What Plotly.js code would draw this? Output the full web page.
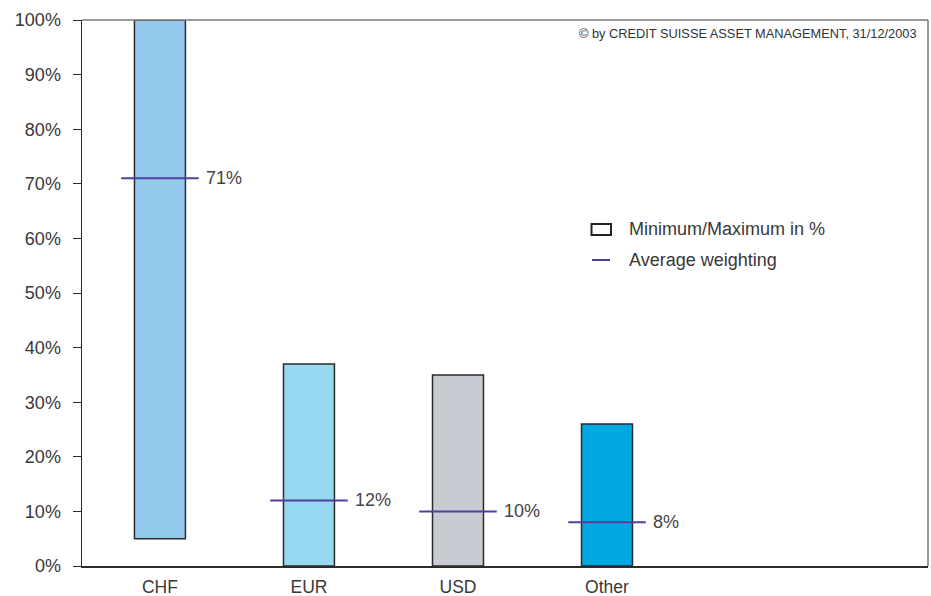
<!DOCTYPE html>
<html>
<head>
<meta charset="utf-8">
<script src="https://cdn.plot.ly/plotly-3.0.1.min.js"></script>
<style>
  html, body { margin: 0; padding: 0; background: #fff; }
  #chart { width: 931px; height: 596px; }
</style>
</head>
<body>
<div id="chart"></div>
<script>
// Currency weighting ranges and averages
const currencies = ['CHF', 'EUR', 'USD', 'Other'];
const minWeight = [5, 0, 0, 0];
const maxWeight = [100, 37, 35, 26];
const avgWeight = [71, 12, 10, 8];
const barColors = ['#94c9ee', '#96d9f0', '#c9cbd2', '#00a7e1'];
const yTicks = [0, 10, 20, 30, 40, 50, 60, 70, 80, 90, 100];

const FONT = 'Liberation Sans, Arial, sans-serif';
const TEXT = '#383838';
const AVG = '#4f3f9f';

const W = 931, H = 596;
const M = { l: 82, r: 3, t: 20, b: 30 };
const pw = W - M.l - M.r, ph = H - M.t - M.b;
// pixel position on the page -> paper coordinates
const px = x => (x - M.l) / pw;
const py = y => (H - M.b - y) / ph;

const idx = currencies.map((_, i) => i);
const half = 0.26;

const ranges = {
  type: 'bar',
  x: idx,
  y: maxWeight.map((v, i) => v - minWeight[i]),
  base: minWeight,
  width: 0.342,
  marker: { color: barColors, line: { color: '#2b2b2b', width: 1.5 } },
  hoverinfo: 'skip',
  showlegend: false
};

const avgX = [], avgY = [];
idx.forEach(i => {
  avgX.push(i - half, i + half, null);
  avgY.push(avgWeight[i], avgWeight[i], null);
});
const averages = {
  type: 'scatter',
  mode: 'lines',
  x: avgX,
  y: avgY,
  line: { color: AVG, width: 2 },
  hoverinfo: 'skip',
  showlegend: false
};

const annotations = idx.map(i => ({
  x: i + half, y: avgWeight[i], xref: 'x', yref: 'y',
  text: avgWeight[i] + '%', showarrow: false,
  xanchor: 'left', yanchor: 'middle', xshift: 5,
  font: { family: FONT, size: 18, color: '#444' }
}));

annotations.push({
  x: px(919), y: py(33), xref: 'paper', yref: 'paper',
  text: '© by CREDIT SUISSE ASSET MANAGEMENT, 31/12/2003',
  showarrow: false, xanchor: 'right', yanchor: 'middle',
  font: { family: FONT, size: 12.8, color: '#333' }
});
annotations.push({
  x: px(627), y: py(229), xref: 'paper', yref: 'paper',
  text: 'Minimum/Maximum in %', showarrow: false,
  xanchor: 'left', yanchor: 'middle',
  font: { family: FONT, size: 18, color: TEXT }
});
annotations.push({
  x: px(627), y: py(260), xref: 'paper', yref: 'paper',
  text: 'Average weighting', showarrow: false,
  xanchor: 'left', yanchor: 'middle',
  font: { family: FONT, size: 18, color: TEXT }
});

const shapes = [
  // frame: top and right edges
  { type: 'line', xref: 'paper', yref: 'paper', x0: 0, x1: 1, y0: 1, y1: 1,
    line: { color: '#7a7a7a', width: 1.5 } },
  { type: 'line', xref: 'paper', yref: 'paper', x0: 1, x1: 1, y0: 0, y1: 1,
    line: { color: '#7a7a7a', width: 1.5 } },
  // legend keys
  { type: 'rect', xref: 'paper', yref: 'paper',
    x0: px(591.5), x1: px(611), y0: py(235), y1: py(224),
    fillcolor: '#ffffff', line: { color: '#222', width: 2 } },
  { type: 'line', xref: 'paper', yref: 'paper',
    x0: px(592), x1: px(610), y0: py(260), y1: py(260),
    line: { color: AVG, width: 2 } }
];

const layout = {
  width: W, height: H,
  margin: M,
  paper_bgcolor: '#ffffff',
  plot_bgcolor: '#ffffff',
  showlegend: false,
  font: { family: FONT, color: TEXT },
  xaxis: {
    range: [-0.523, 5.154],
    tickvals: idx,
    ticktext: currencies,
    showgrid: false, zeroline: false,
    showline: true, linecolor: '#2b2b2b', linewidth: 1.5,
    ticks: '',
    ticklabelstandoff: 4,
    tickfont: { family: FONT, size: 17.5, color: TEXT },
    fixedrange: true
  },
  yaxis: {
    range: [0, 100],
    tickvals: yTicks,
    ticktext: yTicks.map(v => v + '%'),
    showgrid: false, zeroline: false,
    showline: true, linecolor: '#2b2b2b', linewidth: 1.5,
    ticks: 'outside', ticklen: 8, tickcolor: '#2b2b2b', tickwidth: 1,
    ticklabelstandoff: 8,
    tickfont: { family: FONT, size: 18, color: TEXT },
    fixedrange: true
  },
  shapes: shapes,
  annotations: annotations
};

Plotly.newPlot('chart', [ranges, averages], layout, { displayModeBar: false, staticPlot: true });
</script>
</body>
</html>
